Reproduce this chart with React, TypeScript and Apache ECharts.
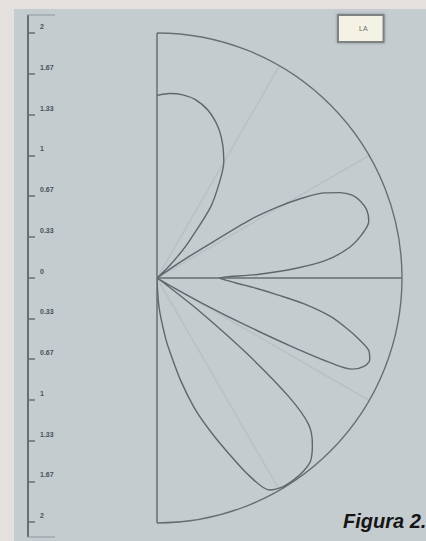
import { useEffect, useRef } from 'react';
import * as echarts from 'echarts';

const seriesName = 'LA';
const caption = 'Figura 2.';

// pattern: angle (degrees, 0 = right, +90 = top) and radius
const angleDeg = [
  -90, -86, -82, -80, -77, -74, -71, -68, -65, -62, -59, -56, -53, -50, -47, -44, -42, -40, -38, -36, -33,
  -30, -29, -28, -27, -26, -25, -23, -21, -19, -17, -15, -12.5, -10, -8, -6, -4, -2,
  0, 2, 4, 6, 9, 12, 15, 18, 21, 23, 25, 27, 29, 30.5, 32, 33, 34, 35, 37,
  40, 44, 47, 49, 53, 57, 60, 64, 68, 73, 78, 82, 86, 90,
];
const radius = [
  0, 0.24, 0.49, 0.62, 0.86, 1.1, 1.31, 1.53, 1.78, 1.96, 1.99, 1.99, 1.98, 1.95, 1.86, 1.72, 1.45, 0.95, 0.45, 0.1, 0,
  0.16, 0.49, 0.82, 1.22, 1.59, 1.76, 1.84, 1.86, 1.83, 1.73, 1.61, 1.45, 1.22, 1.0, 0.82, 0.67, 0.57,
  0.51, 0.82, 1.14, 1.39, 1.59, 1.71, 1.79, 1.8, 1.77, 1.73, 1.65, 1.53, 1.33, 1.14, 0.9, 0.49, 0.29, 0.12, 0,
  0, 0.12, 0.29, 0.41, 0.73, 0.94, 1.09, 1.22, 1.33, 1.43, 1.49, 1.51, 1.51, 1.49,
];
const yTickLabels = ['2', '1.67', '1.33', '1', '0.67', '0.33', '0', '0.33', '0.67', '1', '1.33', '1.67', '2'];
const dark = '#686f73';
const faint = 'rgba(150,160,165,0.25)';

export default function App() {
  const ref = useRef<HTMLDivElement>(null);
  useEffect(() => {
    const chart = echarts.init(ref.current!, null, { renderer: 'svg' });
    const data = angleDeg.map((a, i) => [radius[i], a]);
    chart.setOption({
      animation: false,
      backgroundColor: '#e4e0dd',
      graphic: [
        { type: 'rect', z: -10, silent: true, shape: { x: 14, y: 9, width: 412, height: 532 }, style: { fill: '#c4ccd0' } },
        { type: 'line', shape: { x1: 28, y1: 15, x2: 28, y2: 33 }, style: { stroke: dark, lineWidth: 2 } },
        { type: 'line', shape: { x1: 28, y1: 522, x2: 28, y2: 537 }, style: { stroke: dark, lineWidth: 2 } },
        { type: 'line', shape: { x1: 27, y1: 15, x2: 55, y2: 15 }, style: { stroke: '#8e979b', lineWidth: 1 } },
        { type: 'line', shape: { x1: 27, y1: 537, x2: 55, y2: 537 }, style: { stroke: '#8e979b', lineWidth: 1 } },
        {
          type: 'text', x: 343, y: 511,
          style: {
            text: caption, fontSize: 20, fontWeight: 'bold', fontStyle: 'italic',
            fontFamily: '"Liberation Sans Narrow", "Liberation Sans", Arial, sans-serif',
            fill: '#151515', textVerticalAlign: 'top',
          },
        },
      ],
      legend: {
        data: [seriesName], left: 338, top: 15,
        backgroundColor: '#f4f2e4', borderColor: '#7d8283', borderWidth: 2,
        padding: [10, 16, 10, 15], itemWidth: 0, itemHeight: 0, itemGap: 0,
        shadowColor: 'rgba(0,0,0,0.3)', shadowBlur: 3,
        textStyle: { fontSize: 7, color: '#6e6d5c' },
      },
      grid: { left: 28, top: 33, height: 489, width: 10 },
      xAxis: { type: 'value', show: false },
      yAxis: {
        type: 'category', data: yTickLabels, boundaryGap: false,
        axisLine: { lineStyle: { color: dark, width: 2 } },
        axisTick: { inside: true, length: 7, lineStyle: { color: dark, width: 1.5 } },
        axisLabel: {
          inside: true, margin: 12, fontSize: 7, color: '#4a5154', fontWeight: 'bold',
          verticalAlign: 'bottom', padding: [0, 0, 3, 0],
        },
        splitLine: { show: false },
      },
      polar: { center: [157, 278], radius: 245 },
      angleAxis: {
        type: 'value', min: -90, max: 90, interval: 30,
        startAngle: -90, endAngle: 90, clockwise: false,
        axisLine: { lineStyle: { color: dark, width: 1.4 } },
        axisTick: { show: false }, axisLabel: { show: false },
        splitLine: { show: true, lineStyle: { color: [dark, faint, faint, dark, faint, faint, dark], width: 1.5 } },
      },
      radiusAxis: {
        min: 0, max: 2,
        axisLine: { show: false }, axisTick: { show: false }, axisLabel: { show: false }, splitLine: { show: false },
      },
      series: [
        {
          type: 'line', coordinateSystem: 'polar', name: seriesName, data,
          symbol: 'none', smooth: 0.3, lineStyle: { color: '#5f676b', width: 1.4 },
        },
      ],
    });
    return () => chart.dispose();
  }, []);
  return <div ref={ref} style={{ position: 'fixed', left: 0, top: 0, width: 426, height: 541 }} />;
}
